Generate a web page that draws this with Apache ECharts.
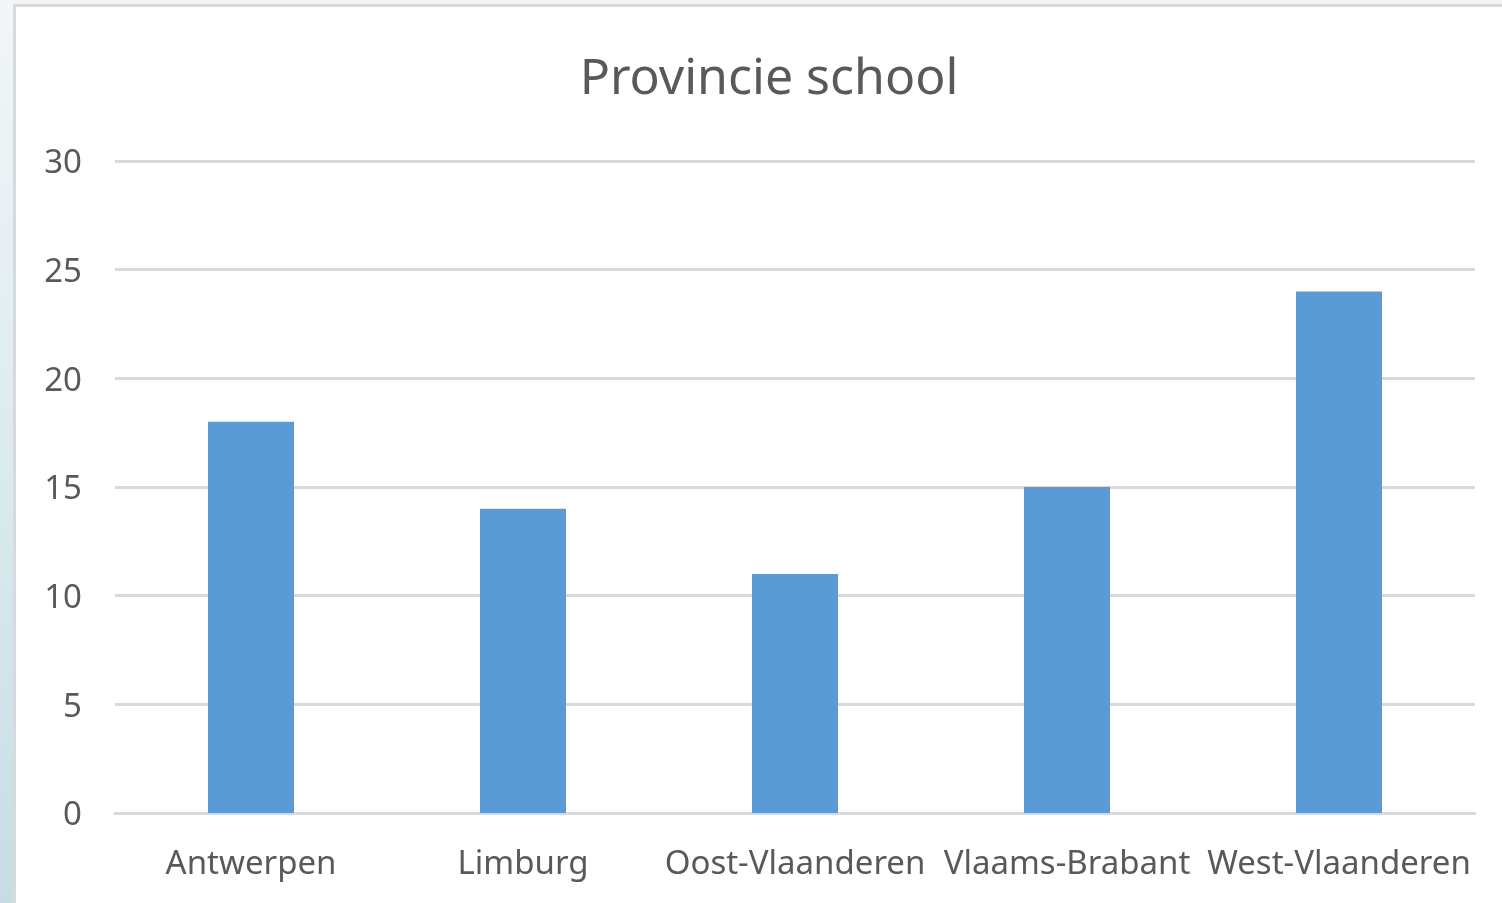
<!DOCTYPE html>
<html>
<head>
<meta charset="utf-8">
<script src="https://cdn.jsdelivr.net/npm/echarts@6/dist/echarts.min.js"></script>
<style>
  html, body { margin: 0; padding: 0; width: 1502px; height: 903px; overflow: hidden; }
  body { background: linear-gradient(to bottom, #f1f6f9 0%, #dcebf0 50%, #c6dde4 100%); position: relative; }
  #panel { position: absolute; left: 13px; top: 4px; right: 0; bottom: 0; background: #fff;
           border-left: 3px solid #d9d9d9; border-top: 3px solid #d9d9d9; }
  #chart { position: absolute; left: 0; top: 0; width: 1502px; height: 903px; }
</style>
</head>
<body>
<div id="panel"></div>
<div id="chart"></div>
<script>
const provinces = ['Antwerpen', 'Limburg', 'Oost-Vlaanderen', 'Vlaams-Brabant', 'West-Vlaanderen'];
const counts = [18, 14, 11, 15, 24];
const yTicks = { min: 0, max: 30, interval: 5 };

const chart = echarts.init(document.getElementById('chart'));
chart.setOption({
  backgroundColor: 'transparent',
  title: {
    text: 'Provincie school',
    left: 764,
    top: 50,
    textAlign: 'center',
    textStyle: { fontFamily: 'Noto Sans', fontSize: 50, fontWeight: 'normal', color: '#595959' }
  },
  grid: { left: 115, right: 27, top: 161, bottom: 90 },
  xAxis: {
    type: 'category',
    data: provinces,
    axisLine: { lineStyle: { color: '#d9d9d9', width: 3 } },
    axisTick: { show: false },
    axisLabel: { fontFamily: 'Noto Sans', fontSize: 33, color: '#595959', margin: 35, interval: 0 }
  },
  yAxis: {
    type: 'value',
    min: yTicks.min,
    max: yTicks.max,
    interval: yTicks.interval,
    axisLine: { show: false },
    axisTick: { show: false },
    splitLine: { lineStyle: { color: '#d9d9d9', width: 3 } },
    axisLabel: {
      margin: 33,
      formatter: '{v|{value}}',
      rich: { v: { fontFamily: 'Noto Sans', fontSize: 33, color: '#595959', padding: [6, 0, 0, 0] } }
    }
  },
  series: [{
    type: 'bar',
    data: counts,
    barWidth: 86,
    itemStyle: { color: '#5b9bd5' },
    z: 3
  }]
});
</script>
</body>
</html>
